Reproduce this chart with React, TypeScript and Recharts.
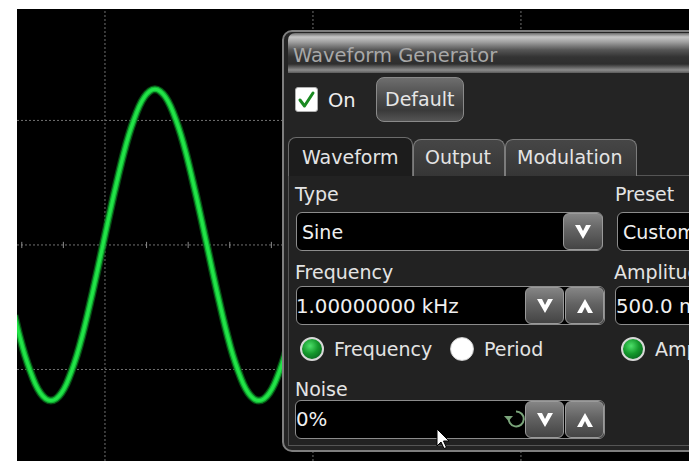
import React from "react";
import { ComposedChart, Line, XAxis, YAxis, ReferenceLine } from "recharts";

// trace: time in µs, voltage in mV (1 ms/div, 200 mV/div)
const timeUs = [
  -435, -410, -385, -360, -335, -310, -285, -260, -235, -210, -185, -160, -135, -110, -85, -60, -35,
  -10, 15, 40, 65, 90, 115, 140, 165, 190, 215, 240, 265, 290, 315, 340, 365, 390, 415, 440, 465,
  490, 515, 540, 565, 590, 615, 640, 665, 690, 715, 740, 765, 790, 815, 840, 865, 890,
];
const traceMv = [
  -113, -147, -177, -202, -223, -238, -247, -250, -247, -238, -223, -202, -177, -147, -113, -77, -39,
  0, 39, 77, 113, 147, 177, 202, 223, 238, 247, 250, 247, 238, 223, 202, 177, 147, 113, 77, 39,
  0, -39, -77, -113, -147, -177, -202, -223, -238, -247, -250, -247, -238, -223, -202, -177, -147,
];

const gridTimes = [0, 1000, 2000];
const gridVolts = [-200, 0, 200];
const axisTicks = [-400, -200, 0, 200, 400, 600, 800, 1000, 1200, 1400, 1600, 1800, 2000, 2200, 2400, 2600, 2800];

const trace = timeUs.map((t, i) => ({ t, v: traceMv[i] }));

const FONT = '"DejaVu Sans", Verdana, sans-serif';

function T({ x, b, s = 19, c = "#e4e4e4", children }: { x: number; b: number; s?: number; c?: string; children: React.ReactNode }) {
  return (
    <div
      style={{
        position: "absolute",
        left: x,
        top: b - 0.846 * s,
        fontSize: s,
        lineHeight: `${s}px`,
        color: c,
        whiteSpace: "nowrap",
      }}
    >
      {children}
    </div>
  );
}

function Box({ x, y, w, h }: { x: number; y: number; w: number; h: number }) {
  return (
    <div
      style={{
        position: "absolute",
        left: x,
        top: y,
        width: w,
        height: h,
        boxSizing: "border-box",
        border: "1.5px solid #8c8c8c",
        borderRadius: 6,
        background: "#000",
      }}
    />
  );
}

function Btn({ x, y, w, h, up }: { x: number; y: number; w: number; h: number; up?: boolean }) {
  return (
    <div
      style={{
        position: "absolute",
        left: x,
        top: y,
        width: w,
        height: h,
        boxSizing: "border-box",
        border: "1.5px solid #9a9a9a",
        borderRadius: 6,
        background: "linear-gradient(#858585 0%, #636363 45%, #444 100%)",
        display: "flex",
        alignItems: "center",
        justifyContent: "center",
      }}
    >
      <svg width={16} height={14} viewBox="0 0 16 14">
        <polygon
          points={up ? "0,14 5,14 8,8 11,14 16,14 8,0" : "0,0 5,0 8,6 11,0 16,0 8,14"}
          fill="#fff"
        />
      </svg>
    </div>
  );
}

function Radio({ cx, cy, on }: { cx: number; cy: number; on: boolean }) {
  return (
    <div
      style={{
        position: "absolute",
        left: cx - 12,
        top: cy - 12,
        width: 24,
        height: 24,
        boxSizing: "border-box",
        borderRadius: 12,
        border: on ? "2.5px solid #d8d8d8" : "1px solid #cfcfcf",
        background: on
          ? "radial-gradient(circle at 40% 35%, #4ee06a 0%, #14982c 45%, #04501a 100%)"
          : "radial-gradient(circle, #fff 65%, #e2e2e2 100%)",
      }}
    />
  );
}

function Tab({ x, y, w, h, label, tx, active }: { x: number; y: number; w: number; h: number; label: string; tx: number; active?: boolean }) {
  return (
    <>
      <div
        style={{
          position: "absolute",
          left: x,
          top: y,
          width: w,
          height: h,
          boxSizing: "border-box",
          border: `1.5px solid ${active ? "#6c6c6c" : "#7c7c7c"}`,
          borderBottom: "none",
          borderRadius: "8px 8px 0 0",
          background: active ? "#1c1c1c" : "linear-gradient(#464646, #363636)",
        }}
      />
      <T x={tx} b={164}>{label}</T>
    </>
  );
}

export default function App() {
  return (
    <div
      style={{
        position: "absolute",
        left: 0,
        top: 0,
        width: 689,
        height: 461,
        background: "#fff",
        overflow: "hidden",
        fontFamily: FONT,
      }}
    >
      <div style={{ position: "absolute", left: 17, top: 9, width: 672, height: 452, background: "#000" }}>
        <ComposedChart width={672} height={452} data={trace} margin={{ top: 0, right: 0, bottom: 0, left: 0 }}>
          <XAxis type="number" dataKey="t" domain={[-423, 2808]} hide allowDataOverflow />
          <YAxis type="number" domain={[-347, 379]} hide allowDataOverflow />
          {gridTimes.map((t) => (
            <ReferenceLine key={`gx${t}`} x={t} stroke="#707070" strokeDasharray="2 2" />
          ))}
          {gridVolts.map((v) => (
            <ReferenceLine key={`gy${v}`} y={v} stroke="#707070" strokeDasharray="2 2" />
          ))}
          {axisTicks.map((t) => (
            <ReferenceLine
              key={`tk${t}`}
              segment={[
                { x: t, y: -5 },
                { x: t, y: 5 },
              ]}
              stroke="#8a8a8a"
            />
          ))}
          <Line type="natural" dataKey="v" stroke="#0a6a1c" strokeOpacity={0.7} strokeWidth={8} dot={false} isAnimationActive={false} />
          <Line type="natural" dataKey="v" stroke="#12b333" strokeWidth={5.5} dot={false} isAnimationActive={false} />
          <Line type="natural" dataKey="v" stroke="#22e448" strokeWidth={3} dot={false} isAnimationActive={false} />
        </ComposedChart>
      </div>

      {/* Waveform Generator dialog */}
      <div
        style={{
          position: "absolute",
          left: 282,
          top: 30,
          width: 430,
          height: 422,
          boxSizing: "border-box",
          border: "2px solid #7e7e7e",
          borderRadius: 10,
          background: "#242424",
        }}
      />
      <div
        style={{
          position: "absolute",
          left: 288,
          top: 33,
          width: 420,
          height: 40,
          borderRadius: "7px 7px 0 0",
          background:
            "linear-gradient(#6a6a6a 0px, #c6c6c6 4px, #a0a0a0 9px, #555 17px, #333 24px, #2e2e2e 31px, #8c8c8c 37px, #5a5a5a 40px)",
        }}
      />
      <T x={293} b={62} s={19.5} c="#a8a8a8">Waveform Generator</T>

      <div
        style={{
          position: "absolute",
          left: 295,
          top: 87,
          width: 23,
          height: 25,
          boxSizing: "border-box",
          background: "#fff",
          border: "1px solid #b0b0b0",
          borderRadius: 3,
        }}
      >
        <svg width={21} height={23} viewBox="0 0 21 23">
          <path d="M4 12 L8.5 18 L17 5" fill="none" stroke="#1b8a22" strokeWidth={3} strokeLinecap="round" strokeLinejoin="round" />
        </svg>
      </div>
      <T x={328} b={107} s={19.5} c="#eeeeee">On</T>

      <div
        style={{
          position: "absolute",
          left: 376,
          top: 77,
          width: 88,
          height: 45,
          boxSizing: "border-box",
          border: "1.5px solid #8a8a8a",
          borderRadius: 8,
          background: "linear-gradient(#6e6e6e 0%, #4c4c4c 45%, #3a3a3a 75%, #555 100%)",
        }}
      />
      <T x={385} b={106} c="#e6e6e6">Default</T>

      <div
        style={{
          position: "absolute",
          left: 288,
          top: 175,
          width: 420,
          height: 271,
          boxSizing: "border-box",
          border: "1.5px solid #555",
          background: "#222",
        }}
      />
      <Tab x={288} y={137} w={125} h={39} label="Waveform" tx={302} active />
      <Tab x={413} y={139} w={92} h={37} label="Output" tx={425} />
      <Tab x={505} y={139} w={132} h={37} label="Modulation" tx={517} />

      <T x={295} b={201}>Type</T>
      <Box x={296} y={212} w={307} h={39} />
      <T x={302} b={239} c="#f0f0f0">Sine</T>
      <Btn x={563} y={213} w={40} h={37} />

      <T x={615} b={201}>Preset</T>
      <Box x={617} y={212} w={110} h={39} />
      <T x={623} b={239} c="#f0f0f0">Custom</T>

      <T x={295} b={279}>Frequency</T>
      <Box x={296} y={286} w={309} h={39} />
      <T x={296} b={314} s={19.8} c="#f0f0f0">1.00000000 kHz</T>
      <Btn x={525} y={287} w={39} h={37} />
      <Btn x={565} y={287} w={39} h={37} up />

      <T x={614} b={279}>Amplitude</T>
      <Box x={615} y={286} w={110} h={39} />
      <T x={616} b={314} s={19.8} c="#f0f0f0">500.0 mVpp</T>

      <Radio cx={312} cy={349} on />
      <T x={334} b={356}>Frequency</T>
      <Radio cx={462} cy={349} on={false} />
      <T x={484} b={356}>Period</T>
      <Radio cx={633} cy={349} on />
      <T x={655} b={356}>Amplitude</T>

      <T x={295} b={396}>Noise</T>
      <Box x={295} y={400} w={310} h={39} />
      <T x={296} b={427} s={19.8} c="#f0f0f0">0%</T>
      <svg style={{ position: "absolute", left: 502, top: 408 }} width={26} height={22} viewBox="0 0 26 22">
        <path d="M7 9 A7.5 7.5 0 1 0 14 3.5" fill="none" stroke="#7ba57b" strokeWidth={2} />
        <polygon points="2,8 11,8 6.5,13" fill="#7ba57b" />
      </svg>
      <Btn x={525} y={401} w={39} h={37} />
      <Btn x={565} y={401} w={39} h={37} up />

      <svg style={{ position: "absolute", left: 436, top: 428 }} width={14} height={22} viewBox="0 0 14 22">
        <path d="M1 1 L1 18 L5 14 L8 20.5 L10.5 19.5 L7.5 13 L13 13 Z" fill="#fff" stroke="#000" strokeWidth={1} />
      </svg>
    </div>
  );
}
